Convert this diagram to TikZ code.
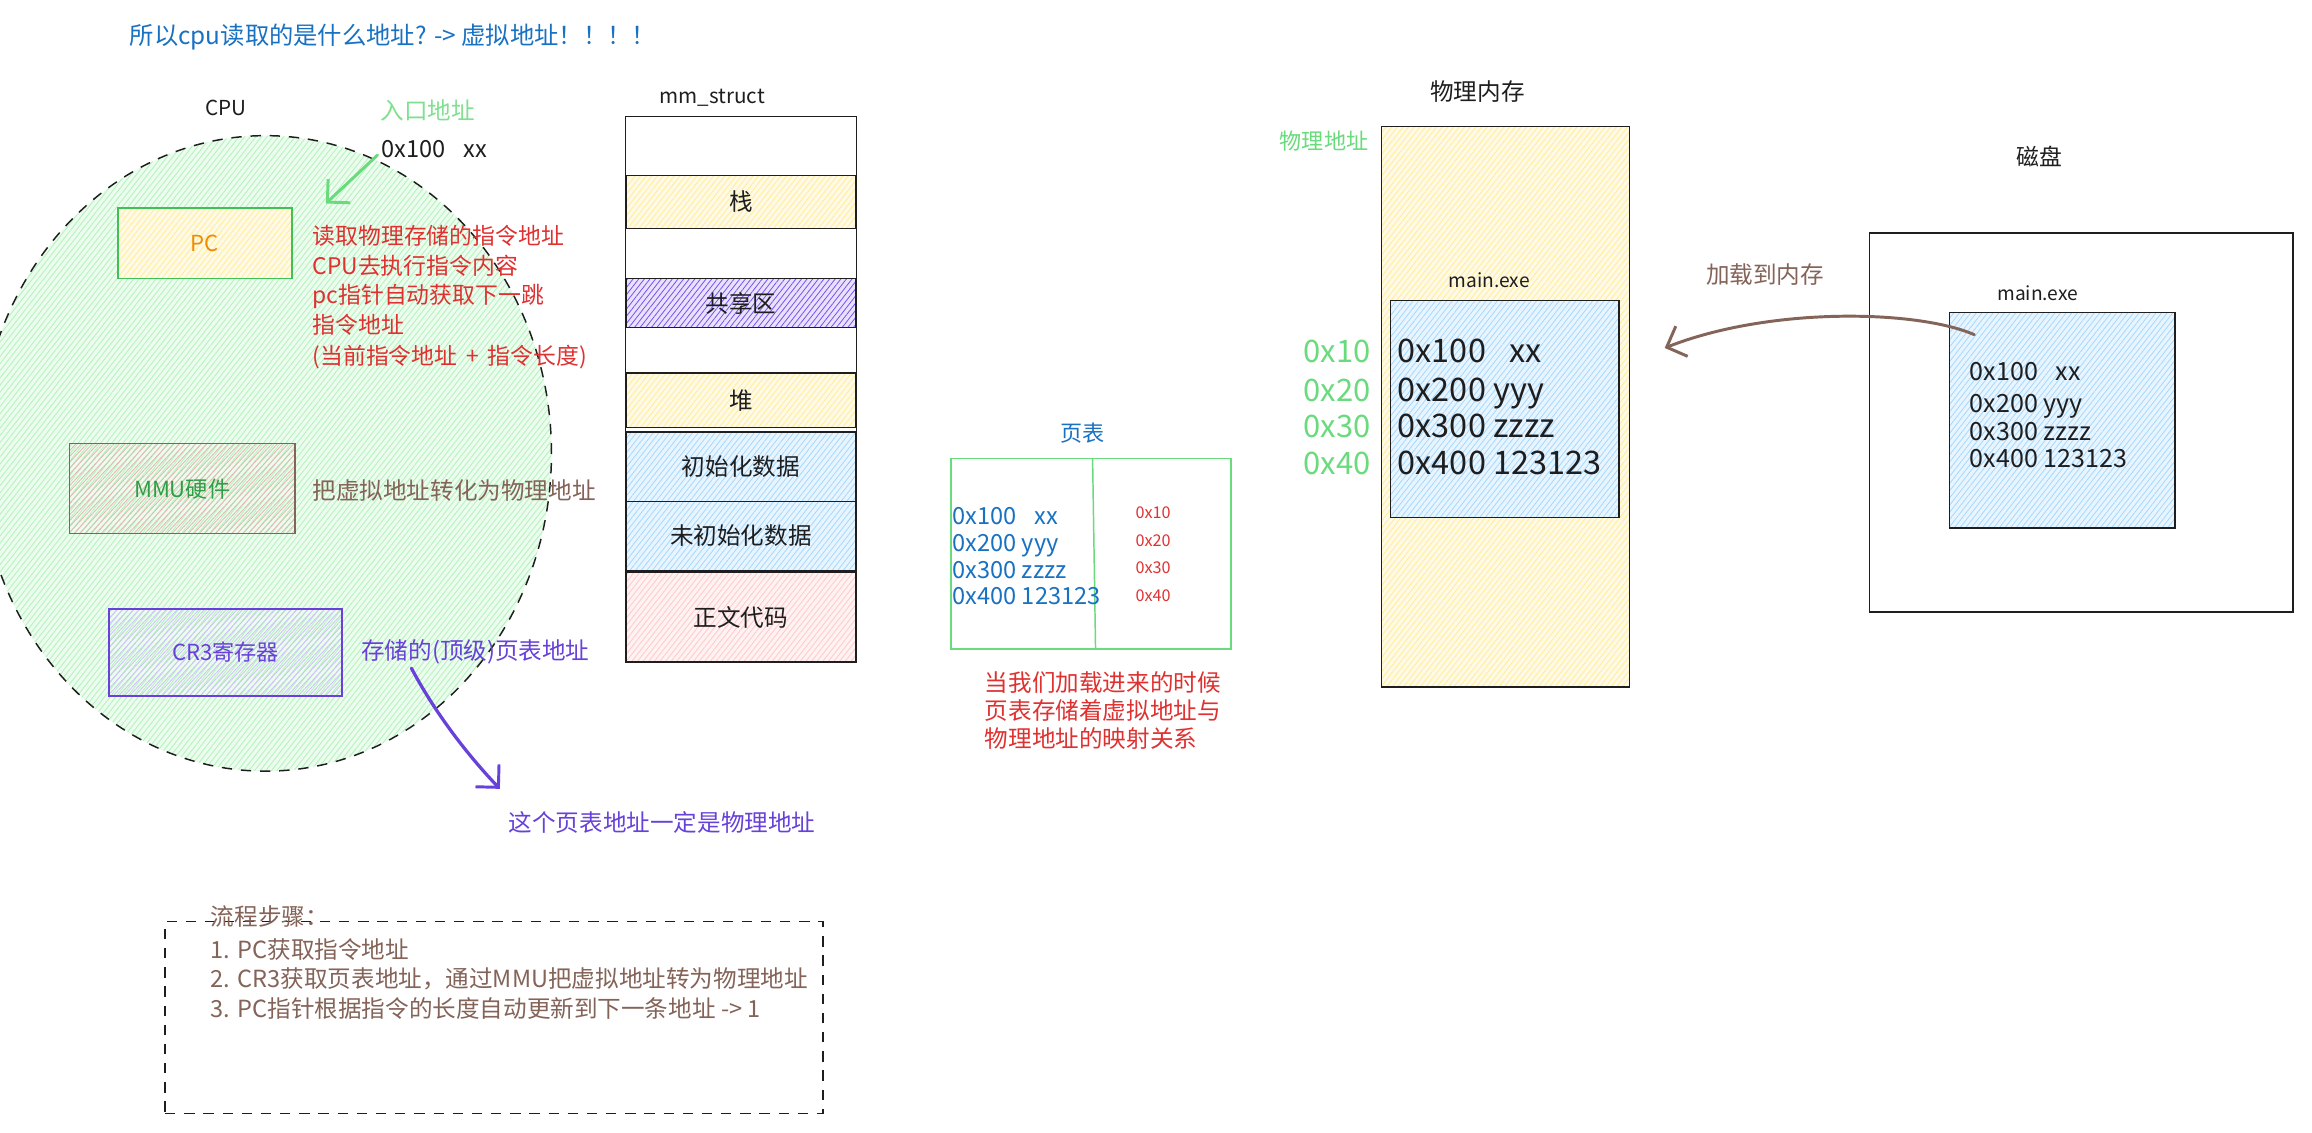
\documentclass[tikz,border=0pt]{standalone}
\usepackage{fontspec}
\setmainfont{Noto Sans CJK SC}
\usetikzlibrary{shapes.geometric,arrows.meta,patterns.meta}
\definecolor{ink}{HTML}{1E1E1E}
\definecolor{xblue}{HTML}{1971C2}
\definecolor{xred}{HTML}{E03131}
\definecolor{xbrown}{HTML}{846358}
\definecolor{xgreen}{HTML}{40C057}
\definecolor{xlgreen}{HTML}{69DB7C}
\definecolor{xdgreen}{HTML}{2F9E44}
\definecolor{xorange}{HTML}{F08C00}
\definecolor{xpurple}{HTML}{6741D9}
\definecolor{xviolet}{HTML}{7950F2}
\definecolor{hgreen}{HTML}{B2F2BB}
\definecolor{hyellow}{HTML}{FFEC99}
\definecolor{hblue}{HTML}{A5D8FF}
\definecolor{hred}{HTML}{FFC9C9}
\definecolor{hlav}{HTML}{D0BFFF}
\newcommand\fsz[1]{\fontsize{#1}{#1}\selectfont}
\begin{document}
\begin{tikzpicture}[x=1pt,y=-1pt,
  every node/.style={inner sep=0pt,outer sep=0pt,text=ink},
  hach/.style={preaction={fill=#1!25},pattern={Lines[angle=52,distance=3pt,line width=0.55pt]},pattern color=#1},
  hacht/.style={pattern={Lines[angle=47,distance=2.7pt,line width=0.55pt]},pattern color=#1},
  rbox/.style={draw=ink,line width=0.9pt,rectangle},
  dashbox/.style={draw=ink,line width=1pt,dash pattern=on 7pt off 6pt},
  lbl/.style={anchor=base west},
  barb/.style={line width=2pt,line cap=round,-{Straight Barb[length=11pt,width=22pt,line width=2pt]}}]
\useasboundingbox (0,0) rectangle (1568,768);
\clip (0,0) rectangle (1568,768);
\fill[white] (0,0) rectangle (1568,768);

% title
\node[lbl,font=\fsz{16.5},text=xblue] (title) at (88,30) {所以cpu读取的是什么地址? -> 虚拟地址！！！！};

% CPU
\node[ellipse,dashbox,hach=hgreen,minimum width=388pt,minimum height=431pt] (cpu) at (180,307.5) {};
\node[font=\fsz{14}] (cpulbl) at (153,73) {CPU};
\node[font=\fsz{16},text=xlgreen!85] (entry) at (290,75) {入口地址};
\node[lbl,font=\fsz{16}] (entryaddr) at (259,107) {0x100\hspace{12pt}xx};

\node[rbox,draw=xgreen,hach=hyellow,minimum width=118pt,minimum height=48pt,font=\fsz{15},text=xorange] (pc) at (139,165) {PC};
\node[rbox,draw=xbrown,hacht=hred!80!xbrown,minimum width=153pt,minimum height=61pt,font=\fsz{15},text=xdgreen] (mmu) at (123.5,331.5) {MMU硬件};
\node[rbox,draw=xpurple,hacht=hlav,minimum width=158pt,minimum height=59pt,font=\fsz{15},text=xpurple] (cr3) at (153,442.5) {CR3寄存器};

\coordinate (pcin) at (221,138);
\draw[barb,draw=xlgreen] (entryaddr.south west)++(-3,-2) coordinate (pcout) (pcout) -- (pcin);

\node[lbl,font=\fsz{15.5},text=xred] (r1) at (212,166) {读取物理存储的指令地址};
\node[lbl,font=\fsz{15.5},text=xred] (r2) at (212,186) {CPU去执行指令内容};
\node[lbl,font=\fsz{15.5},text=xred] (r3) at (212,206) {pc指针自动获取下一跳};
\node[lbl,font=\fsz{15.5},text=xred] (r4) at (212,226) {指令地址};
\node[lbl,font=\fsz{15.5},text=xred] (r5) at (212,247) {(当前指令地址\hspace{6pt}+\hspace{6pt}指令长度)};

\node[lbl,font=\fsz{16},text=xbrown] (mmunote) at (212,339) {把虚拟地址转化为物理地址};
\node[lbl,font=\fsz{16},text=xpurple] (cr3note) at (245,447) {存储的(顶级)页表地址};
\node[lbl,font=\fsz{16},text=xpurple] (physnote) at (345,564) {这个页表地址一定是物理地址};
\coordinate (cr3end) at (339,535);
\draw[barb,draw=xpurple,line width=2.2pt] (cr3note.south west)++(34,3) coordinate (cr3start) (cr3start) .. controls (297,487) and (320,515) .. (cr3end);

% mm_struct
\node[font=\fsz{14}] (mmlbl) at (483,66) {mm\_struct};
\node[rbox,minimum width=157pt,minimum height=370pt] (mm) at (502.5,264) {};
\node[rbox,hach=hyellow,minimum width=155pt,minimum height=36pt,font=\fsz{16}] (stack) at (502.5,137) {栈};
\node[rbox,hach=xviolet,preaction={fill=white,fill opacity=0.35},minimum width=155pt,minimum height=33pt,font=\fsz{16}] (shared) at (502.5,205.5) {共享区};
\node[rbox,hach=hyellow,minimum width=155pt,minimum height=37pt,font=\fsz{16}] (heap) at (502.5,271.5) {堆};
\node[rbox,hach=hblue,minimum width=155pt,minimum height=47pt,font=\fsz{16}] (data) at (502.5,316.5) {初始化数据};
\node[rbox,hach=hblue,minimum width=155pt,minimum height=47pt,font=\fsz{16}] (bss) at (502.5,363.5) {未初始化数据};
\node[rbox,hach=hred,minimum width=155pt,minimum height=61pt,font=\fsz{16}] (text) at (502.5,418.5) {正文代码};

% page table
\node[font=\fsz{15},text=xblue] (ptlbl) at (734,294) {页表};
\node[rectangle,draw=xlgreen,line width=1pt,minimum width=190pt,minimum height=129pt] (pt) at (740,375.5) {};
\draw[xlgreen,line width=1pt] (741,311) -- (743,440);
\node[lbl,font=\fsz{16},text=xblue] (pv1) at (646,356) {0x100\hspace{12pt}xx};
\node[lbl,font=\fsz{16},text=xblue] (pv2) at (646,374) {0x200 yyy};
\node[lbl,font=\fsz{16},text=xblue] (pv3) at (646,392) {0x300 zzzz};
\node[lbl,font=\fsz{16},text=xblue] (pv4) at (646,410) {0x400 123123};
\node[font=\fsz{11},text=xred] (pp1) at (782,348) {0x10};
\node[font=\fsz{11},text=xred] (pp2) at (782,367) {0x20};
\node[font=\fsz{11},text=xred] (pp3) at (782,385) {0x30};
\node[font=\fsz{11},text=xred] (pp4) at (782,404) {0x40};
\node[lbl,font=\fsz{16},text=xred] (pn1) at (668,469) {当我们加载进来的时候};
\node[lbl,font=\fsz{16},text=xred] (pn2) at (668,488) {页表存储着虚拟地址与};
\node[lbl,font=\fsz{16},text=xred] (pn3) at (668,507) {物理地址的映射关系};

% physical memory
\node[font=\fsz{16}] (memlbl) at (1002,62) {物理内存};
\node[font=\fsz{15},text=xlgreen] (physaddr) at (898,96) {物理地址};
\node[rbox,hach=hyellow,minimum width=168pt,minimum height=380pt] (mem) at (1021,276) {};
\node[font=\fsz{13}] (memexe) at (1010,190) {main.exe};
\node[rbox,hach=hblue,minimum width=155pt,minimum height=147pt] (memin) at (1020.5,277.5) {};
\node[lbl,font=\fsz{22}] (m1) at (948,246) {0x100\hspace{16pt}xx};
\node[lbl,font=\fsz{22}] (m2) at (948,272) {0x200 yyy};
\node[lbl,font=\fsz{22}] (m3) at (948,297) {0x300 zzzz};
\node[lbl,font=\fsz{22}] (m4) at (948,322) {0x400 123123};
\node[lbl,font=\fsz{21},text=xlgreen] (g1) at (884,246) {0x10};
\node[lbl,font=\fsz{21},text=xlgreen] (g2) at (884,272) {0x20};
\node[lbl,font=\fsz{21},text=xlgreen] (g3) at (884,297) {0x30};
\node[lbl,font=\fsz{21},text=xlgreen] (g4) at (884,322) {0x40};

% disk
\node[font=\fsz{15.5}] (disklbl) at (1383,106) {磁盘};
\node[rbox,minimum width=287pt,minimum height=257pt] (disk) at (1411.5,286.5) {};
\node[font=\fsz{13}] (diskexe) at (1382,199) {main.exe};
\node[rbox,hach=hblue,minimum width=153pt,minimum height=146pt] (diskin) at (1398.5,285) {};
\node[lbl,font=\fsz{17}] (d1) at (1336,258) {0x100\hspace{12pt}xx};
\node[lbl,font=\fsz{17}] (d2) at (1336,280) {0x200 yyy};
\node[lbl,font=\fsz{17}] (d3) at (1336,299) {0x300 zzzz};
\node[lbl,font=\fsz{17}] (d4) at (1336,317) {0x400 123123};

\node[font=\fsz{16},text=xbrown] (loadlbl) at (1197,186) {加载到内存};
\coordinate (loadend) at (1129,236);
\draw[barb,draw=xbrown] (diskin.west)++(17,-58) coordinate (loadstart) (loadstart) .. controls (1300,210) and (1200,208) .. (loadend);

% flow steps
\node[dashbox,minimum width=446pt,minimum height=130pt] (flow) at (335,690) {};
\node[lbl,font=\fsz{16},text=xbrown] (f0) at (143,628) {流程步骤：};
\node[lbl,font=\fsz{16},text=xbrown] (f1) at (143,650) {1. PC获取指令地址};
\node[lbl,font=\fsz{16},text=xbrown] (f2) at (143,670) {2. CR3获取页表地址，通过MMU把虚拟地址转为物理地址};
\node[lbl,font=\fsz{16},text=xbrown] (f3) at (143,690) {3. PC指针根据指令的长度自动更新到下一条地址 -> 1};
\end{tikzpicture}
\end{document}
